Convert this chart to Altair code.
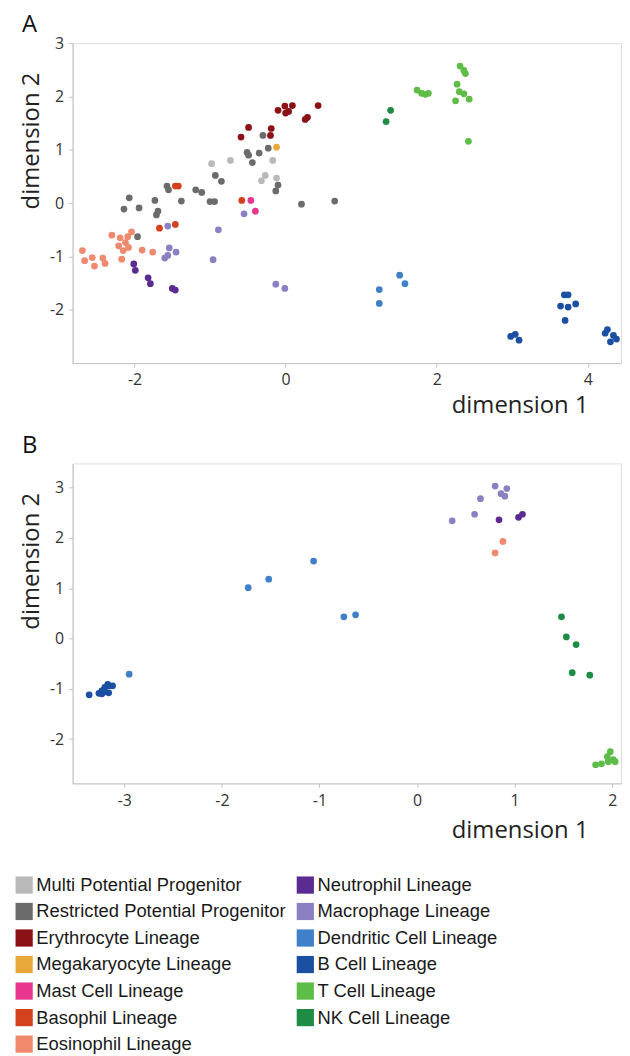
import altair as alt
import pandas as pd

CATS = ["Multi Potential Progenitor", "Restricted Potential Progenitor", "Erythrocyte Lineage",
        "Megakaryocyte Lineage", "Mast Cell Lineage", "Basophil Lineage", "Eosinophil Lineage",
        "Neutrophil Lineage", "Macrophage Lineage", "Dendritic Cell Lineage", "B Cell Lineage",
        "T Cell Lineage", "NK Cell Lineage"]
COLORS = ["#b9b9b9", "#6b6b6b", "#8b1116", "#e9a93a", "#e8368f", "#d3411f", "#ef8a6f",
          "#5a2b90", "#8a80c2", "#3f80c8", "#1b4fa2", "#5dbd47", "#1f8c46"]

# ---------- Panel A ----------
A_MPP = [(-0.98, 0.74), (-0.73, 0.80), (-0.17, 0.80), (-0.27, 0.52), (-0.32, 0.42), (-0.12, 0.47)]
A_RPP = [(-2.07, 0.10), (-2.14, -0.11), (-1.94, -0.09), (-1.96, -0.63), (-1.73, 0.05), (-1.71, -0.22),
         (-1.69, -0.15), (-1.57, 0.32), (-1.55, 0.25), (-1.38, 0.04), (-1.19, 0.25), (-1.11, 0.20),
         (-1.00, 0.03), (-0.94, 0.03), (-0.93, 0.52), (-0.85, 0.41), (-0.51, 0.95), (-0.49, 0.90),
         (-0.44, 0.76), (-0.35, 0.94), (-0.30, 1.27), (-0.23, 1.03), (-0.10, 0.34), (-0.13, 0.23),
         (0.21, -0.02), (0.65, 0.04)]
A_ERY = [(-0.59, 1.24), (-0.49, 1.42), (-0.19, 1.40), (-0.20, 1.27), (-0.10, 1.74), (-0.01, 1.82),
         (0.04, 1.72), (0.09, 1.83), (0.00, 1.69), (0.26, 1.57), (0.29, 1.61), (0.43, 1.83)]
A_MEG = [(-0.12, 1.05)]
A_MAST = [(-0.46, 0.05), (-0.40, -0.15)]
A_BASO = [(-1.46, 0.32), (-1.42, 0.32), (-1.67, -0.47), (-1.46, -0.40), (-0.58, 0.05)]
A_EOS = [(-2.69, -0.89), (-2.66, -1.08), (-2.56, -1.02), (-2.53, -1.18), (-2.42, -1.03), (-2.39, -1.13),
         (-2.30, -0.60), (-2.19, -0.65), (-2.21, -0.80), (-2.12, -0.74), (-2.09, -0.63), (-2.15, -0.89),
         (-2.04, -0.54), (-2.17, -1.05), (-1.90, -0.88), (-1.76, -0.92), (-2.08, -0.83)]
A_NEU = [(-2.01, -1.14), (-1.99, -1.26), (-1.82, -1.40), (-1.79, -1.51), (-1.50, -1.60), (-1.46, -1.63)]
A_MAC = [(-1.56, -0.43), (-1.54, -0.84), (-1.60, -1.03), (-1.56, -0.98), (-1.45, -0.92), (-0.89, -0.50),
         (-0.96, -1.06), (-0.55, -0.20), (-0.13, -1.52), (-0.01, -1.60)]
A_DC = [(1.24, -1.62), (1.24, -1.88), (1.51, -1.35), (1.58, -1.51)]
A_B = [(2.98, -2.50), (3.04, -2.46), (3.09, -2.57), (3.69, -1.72), (3.74, -1.72), (3.64, -1.93),
       (3.74, -1.95), (3.84, -1.89), (3.70, -2.20), (4.26, -2.37), (4.23, -2.44), (4.34, -2.48),
       (4.38, -2.55), (4.30, -2.60)]
A_T = [(1.74, 2.12), (1.80, 2.06), (1.89, 2.06), (1.85, 2.04), (2.31, 2.57), (2.36, 2.49), (2.38, 2.43),
       (2.27, 2.23), (2.30, 2.09), (2.25, 1.92), (2.36, 2.05), (2.43, 1.95), (2.42, 1.16)]
A_NK = [(1.39, 1.74), (1.33, 1.53)]

# ---------- Panel B ----------
B_EOS = [(0.88, 1.93), (0.80, 1.70)]
B_NEU = [(0.84, 2.36), (1.04, 2.41), (1.08, 2.47)]
B_MAC = [(0.36, 2.34), (0.59, 2.47), (0.65, 2.78), (0.80, 3.03), (0.86, 2.88), (0.90, 2.83), (0.92, 2.98)]
B_DC = [(-2.95, -0.71), (-1.73, 1.01), (-1.52, 1.18), (-1.06, 1.54), (-0.75, 0.43), (-0.63, 0.47)]
B_B = [(-3.36, -1.12), (-3.26, -1.09), (-3.23, -1.04), (-3.20, -0.97), (-3.17, -0.91), (-3.15, -0.94),
       (-3.12, -0.94), (-3.16, -1.08), (-3.20, -1.06), (-3.23, -1.10)]
B_T = [(1.83, -2.51), (1.89, -2.49), (1.95, -2.35), (1.98, -2.25), (2.01, -2.41), (2.03, -2.45), (1.96, -2.45)]
B_NK = [(1.48, 0.43), (1.53, 0.03), (1.63, -0.12), (1.59, -0.68), (1.77, -0.73)]

A_X_TICKS = [-2, 0, 2, 4]
B_X_TICKS = [-3, -2, -1, 0, 1, 2]
A_Y_TICKS = [-2, -1, 0, 1, 2, 3]
B_Y_TICKS = [-2, -1, 0, 1, 2, 3]


def frame(groups):
    rows = []
    for cat, pts in groups:
        for x, y in pts:
            rows.append({"x": x, "y": y, "cat": cat})
    return pd.DataFrame(rows)


dfA = frame([(CATS[0], A_MPP), (CATS[1], A_RPP), (CATS[2], A_ERY), (CATS[3], A_MEG),
             (CATS[4], A_MAST), (CATS[5], A_BASO), (CATS[6], A_EOS), (CATS[7], A_NEU),
             (CATS[8], A_MAC), (CATS[9], A_DC), (CATS[10], A_B), (CATS[11], A_T), (CATS[12], A_NK)])
dfB = frame([(CATS[6], B_EOS), (CATS[7], B_NEU), (CATS[8], B_MAC), (CATS[9], B_DC),
             (CATS[10], B_B), (CATS[11], B_T), (CATS[12], B_NK)])

AX_FONT = "Open Sans"
color = alt.Color("cat:N", scale=alt.Scale(domain=CATS, range=COLORS),
                  legend=alt.Legend(title=None, orient="none", legendX=-58, legendY=838,
                                    direction="vertical", columns=2, values=CATS,
                                    symbolType="square", symbolSize=300, symbolStrokeWidth=0,
                                    symbolOpacity=1, labelFont="Liberation Sans",
                                    labelFontSize=18.5, labelColor="#1a1a1a", labelLimit=400,
                                    labelOffset=3, rowPadding=7.7, columnPadding=10))


def axis_common(ticks, **kw):
    return alt.Axis(values=ticks, grid=False, domainColor="#c4c4c4", tickColor="#c4c4c4",
                    tickSize=4, labelFont=AX_FONT, labelFontSize=16, labelColor="#333333",
                    labelExpr="'' + datum.value", titleFont=AX_FONT, titleFontSize=24,
                    titleFontWeight="normal", titleColor="#222222", **kw)


def panel(df, letter, xdom, ydom, xticks, yticks, xtitle_y):
    pts = alt.Chart(df).mark_circle(size=46, opacity=1).encode(
        x=alt.X("x:Q", scale=alt.Scale(domain=xdom, nice=False, zero=False),
                axis=axis_common(xticks, title="dimension 1", labelPadding=5,
                                 titleX=450, titleY=xtitle_y, titleAlign="center",
                                 titleBaseline="alphabetic")),
        y=alt.Y("y:Q", scale=alt.Scale(domain=ydom, nice=False, zero=False),
                axis=axis_common(yticks, title="dimension 2", labelPadding=5,
                                 titleX=-34, titleY=98, titleAngle=-90, titleAlign="center",
                                 titleBaseline="alphabetic")),
        color=color,
    )
    lab = alt.Chart(pd.DataFrame({"t": [letter]})).mark_text(
        font=AX_FONT, fontSize=24, align="left", baseline="alphabetic", color="#111111"
    ).encode(x=alt.value(-51), y=alt.value(-11), text="t:N")
    return alt.layer(pts, lab).properties(width=552, height=322)


pA = panel(dfA, "A", [-2.82, 4.44], [-3.0, 3.0], A_X_TICKS, A_Y_TICKS, 50)
pB = panel(dfB, "B", [-3.53, 2.09], [-2.88, 3.48], B_X_TICKS, B_Y_TICKS, 54)

chart = alt.vconcat(pA, pB, spacing=14).properties(
    padding={"left": 7, "top": 1, "right": 0, "bottom": 0}
).configure_view(stroke=None).configure(background="white")

chart.save("out.html", embed_options={"renderer": "svg", "actions": False})
